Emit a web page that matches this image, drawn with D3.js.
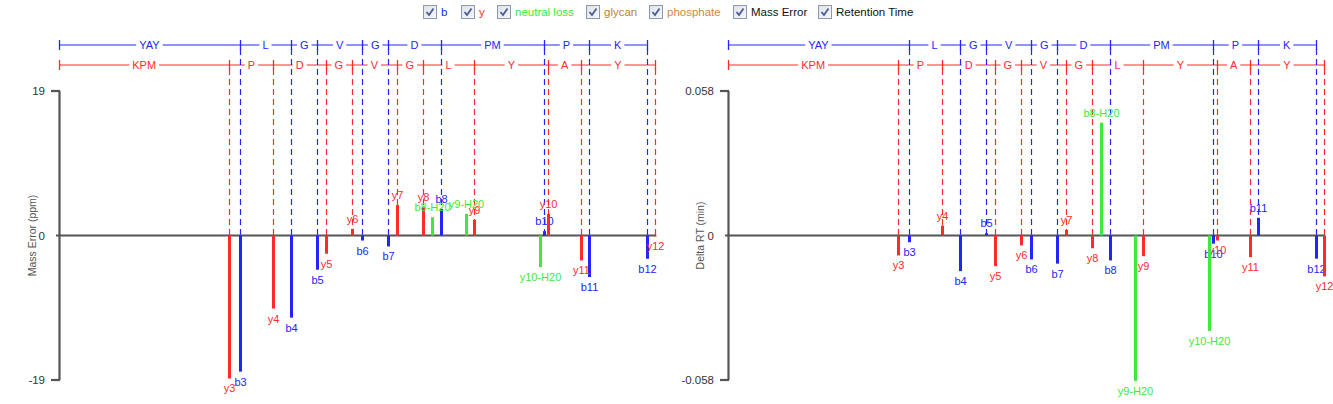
<!DOCTYPE html>
<html>
<head>
<meta charset="utf-8">
<script src="https://cdn.jsdelivr.net/npm/d3@7"></script>
<style>
  html, body { margin: 0; padding: 0; background: #fff; }
  svg { display: block; font-family: "Liberation Sans", Arial, sans-serif; }
</style>
</head>
<body>
<svg id="chart" width="1333" height="404"></svg>
<script>
// ---------------- DATA ----------------
const residues = ["Y","A","Y","L","G","V","G","D","P","M","P","K"];
const residueMass = {Y:163.06333, A:71.03711, L:113.08406, G:57.02146, V:99.06841, D:115.02694, P:97.05276, M:131.04049, K:128.09496};
const waterMass = 18.01056;

const bIonNumbers = [3,4,5,6,7,8,10,11,12];
const yIonNumbers = [3,4,5,6,7,8,9,10,11,12];

// neutral losses: [ion type, ion number]
const neutralLossIons = [["b",8],["y",9],["y",10]];
const neutralLossLabels = ["b8-H20","y9-H20","y10-H20"];

// Mass error (ppm)
const massErrorB  = [-17.9, -10.8, -4.5, -0.66, -1.44, 3.5, 0.57, -5.46, -3.06];
const massErrorY  = [-18.8, -9.6, -2.4, 0.88, 4.0, 3.7, 2.05, 2.84, -3.28, -0.1];
const massErrorNL = [2.4, 2.84, -4.15];
const massErrorMax = 19;

// Delta retention time (min)
const deltaRtB  = [-0.0027, -0.0143, 0.0009, -0.0096, -0.0113, -0.0100, -0.0033, 0.0071, -0.0093];
const deltaRtY  = [-0.0080, 0.0040, -0.0123, -0.0040, 0.0023, -0.0051, -0.0083, -0.0020, -0.0087, -0.0164];
const deltaRtNL = [0.0453, -0.0584, -0.0383];
const deltaRtMax = 0.058;

const legendLabels = ["b","y","neutral loss","glycan","phosphate","Mass Error","Retention Time"];

// ---------------- STYLE / LAYOUT ----------------
const BLUE = "#2424ff", RED = "#ff2b2b", GREEN = "#3ee83e";
const legendColors = [BLUE, RED, "#33ee33", "#c0842a", "#cf8a3a", "#111", "#111"];
const legendX = [423, 461, 497, 586, 649, 733, 818];
const AXIS = "#555";

const svg = d3.select("#chart");

// ---------------- LEGEND ----------------
const defs = svg.append("defs");
const grad = defs.append("linearGradient").attr("id","cbg").attr("x1",0).attr("y1",0).attr("x2",1).attr("y2",1);
grad.append("stop").attr("offset","0%").attr("stop-color","#dde2ea");
grad.append("stop").attr("offset","100%").attr("stop-color","#f7f8fa");

const leg = svg.append("g");
legendLabels.forEach((lab, i) => {
  const g = leg.append("g").attr("transform", `translate(${legendX[i]},5)`);
  g.append("rect").attr("x",0.5).attr("y",0.5).attr("width",13).attr("height",13)
    .attr("fill","url(#cbg)").attr("stroke","#8e99ad");
  g.append("path").attr("d","M3.5,7 L6,10 L10.5,3.5").attr("fill","none")
    .attr("stroke","#4a5d94").attr("stroke-width",1.8);
  g.append("text").attr("x",18).attr("y",11).attr("font-size",11.5)
    .attr("fill",legendColors[i]).text(lab);
});

// ---------------- ION POSITIONS ----------------
const cum = [0];
residues.forEach(r => cum.push(cum[cum.length-1] + residueMass[r]));
const total = cum[cum.length-1];
const bMass = n => cum[n];
const yMass = n => total - cum[residues.length - n] + waterMass;
const fullDomain = total + waterMass;

function drawPanel(x0, x1, yMax, valsB, valsY, valsNL, title, tickFmt, titleX) {
  const g = svg.append("g");
  const x = d3.scaleLinear().domain([0, fullDomain]).range([x0, x1]);
  const y = d3.scaleLinear().domain([-yMax, yMax]).range([380, 91]);
  const rowB = 45, rowY = 65;

  // header rows
  function header(rowYpos, positions, labels, color) {
    const hg = g.append("g");
    const bounds = [0].concat(positions);
    hg.append("line").attr("x1", x(bounds[0])).attr("x2", x(bounds[bounds.length-1]))
      .attr("y1", rowYpos).attr("y2", rowYpos).attr("stroke", color).attr("stroke-width",1);
    bounds.forEach(b => {
      hg.append("line").attr("x1", Math.round(x(b))+0.5).attr("x2", Math.round(x(b))+0.5)
        .attr("y1", rowYpos-5).attr("y2", rowYpos+5).attr("stroke", color).attr("stroke-width",1.3);
    });
    labels.forEach((lab, i) => {
      const cx = (x(bounds[i]) + x(bounds[i+1])) / 2;
      const t = hg.append("text").attr("x", cx).attr("y", rowYpos).attr("dy","0.36em")
        .attr("text-anchor","middle").attr("font-size",11).attr("fill",color).text(lab);
      const w = t.node().getComputedTextLength();
      hg.insert("rect", "text").attr("x", cx - w/2 - 3).attr("y", rowYpos-2).attr("width", w+6).attr("height",4).attr("fill","#fff");
    });
  }
  const bPos = bIonNumbers.map(bMass);
  const bLabels = bIonNumbers.map((n,i) => residues.slice(i === 0 ? 0 : bIonNumbers[i-1], n).join(""));
  const yPos = yIonNumbers.map(yMass);
  const rev = residues.slice().reverse();
  const yLabels = yIonNumbers.map((n,i) => rev.slice(i === 0 ? 0 : yIonNumbers[i-1], n).join(""));
  header(rowB, bPos, bLabels, BLUE);
  header(rowY, yPos, yLabels, RED);

  // axis
  g.append("line").attr("x1", x0+0.5).attr("x2", x0+0.5).attr("y1", y(yMax)).attr("y2", y(-yMax))
    .attr("stroke", AXIS).attr("stroke-width", 2.2);
  [yMax, -yMax].forEach(v => {
    g.append("line").attr("x1", x0-8).attr("x2", x0+1).attr("y1", y(v)).attr("y2", y(v))
      .attr("stroke", AXIS).attr("stroke-width", 2.2);
  });
  [yMax, 0, -yMax].forEach(v => {
    g.append("text").attr("x", x0 - 14).attr("y", y(v)).attr("dy","0.35em").attr("text-anchor","end")
      .attr("font-size",11.5).attr("fill","#333").text(tickFmt(v));
  });
  g.append("text").attr("transform", `translate(${titleX},${y(0)}) rotate(-90)`)
    .attr("text-anchor","middle").attr("dy","0.35em").attr("font-size",10.5).attr("fill","#555").text(title);

  // dashed guide lines
  bPos.forEach(m => {
    g.append("line").attr("x1", Math.round(x(m))+0.5).attr("x2", Math.round(x(m))+0.5)
      .attr("y1", rowB+4).attr("y2", y(0)).attr("stroke", BLUE).attr("stroke-width",1.2).attr("stroke-dasharray","6,4");
  });
  yPos.forEach(m => {
    g.append("line").attr("x1", Math.round(x(m))+0.5).attr("x2", Math.round(x(m))+0.5)
      .attr("y1", rowY+4).attr("y2", y(0)).attr("stroke", RED).attr("stroke-width",1.2).attr("stroke-dasharray","6,4");
  });

  // zero line
  g.append("line").attr("x1", x0-3).attr("x2", x(fullDomain)+1).attr("y1", y(0)).attr("y2", y(0))
    .attr("stroke", AXIS).attr("stroke-width", 2.2);

  // bars
  function bar(m, v, color, label) {
    const px = Math.round(x(m)) + 0.5;
    g.append("line").attr("x1", px).attr("x2", px).attr("y1", y(0)).attr("y2", y(v))
      .attr("stroke", color).attr("stroke-width", 3);
    g.append("text").attr("x", px).attr("y", v >= 0 ? y(v) - 6 : y(v) + 14)
      .attr("text-anchor","middle").attr("font-size",11).attr("fill",color).text(label);
  }
  bIonNumbers.forEach((n,i) => bar(bMass(n), valsB[i], BLUE, "b"+n));
  yIonNumbers.forEach((n,i) => bar(yMass(n), valsY[i], RED, "y"+n));
  neutralLossIons.forEach((ion,i) => {
    const m = (ion[0] === "b" ? bMass(ion[1]) : yMass(ion[1])) - waterMass;
    bar(m, valsNL[i], GREEN, neutralLossLabels[i]);
  });
}

drawPanel(59, 655, massErrorMax, massErrorB, massErrorY, massErrorNL, "Mass Error (ppm)", d => String(d), 32);
drawPanel(728, 1324, deltaRtMax, deltaRtB, deltaRtY, deltaRtNL, "Delta RT (min)", d => d === 0 ? "0" : d.toFixed(3), 700);
</script>
</body>
</html>
